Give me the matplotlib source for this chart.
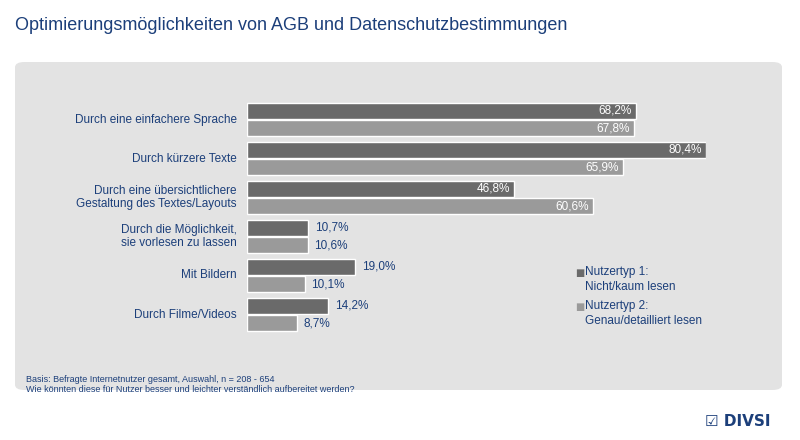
import matplotlib.pyplot as plt
from matplotlib.patches import FancyBboxPatch
import numpy as np

categories = ["Durch eine einfachere Sprache", "Durch kürzere Texte",
              "Durch eine übersichtlichere\nGestaltung des Textes/Layouts",
              "Durch die Möglichkeit,\nsie vorlesen zu lassen", "Mit Bildern", "Durch Filme/Videos"]
typ1 = [68.2, 80.4, 46.8, 10.7, 19.0, 14.2]
typ2 = [67.8, 65.9, 60.6, 10.6, 10.1, 8.7]
legend_labels = ["Nutzertyp 1:\nNicht/kaum lesen", "Nutzertyp 2:\nGenau/detailliert lesen"]

blue = "#1c3f7a"
dark = "#6a6a6a"
light = "#9a9a9a"
W, H = 800, 440

fig = plt.figure(figsize=(8, 4.4), dpi=100)
fig.patch.set_facecolor("white")
fig.text(15 / W, 1 - 25 / H, "Optimierungsmöglichkeiten von AGB und Datenschutzbestimmungen",
         fontsize=13, color=blue, va="center", family="Liberation Sans")
box = FancyBboxPatch((15 / W, 1 - 390 / H), 767 / W, 328 / H,
                     boxstyle="round,pad=0,rounding_size=0.012",
                     transform=fig.transFigure, facecolor="#e3e3e3", edgecolor="none", zorder=-5)
fig.patches.append(box)

ax = fig.add_axes([247 / W, 1 - 334 / H, 459 / W, 234 / H])
ax.set_zorder(2)
ax.set_xlim(0, 80.4)
ax.set_ylim(5.5, -0.5)
ax.axis("off")
y = np.arange(len(categories))
off, h = 0.218, 0.4
ax.barh(y - off, typ1, height=h, color=dark, edgecolor="white", linewidth=1)
ax.barh(y + off, typ2, height=h, color=light, edgecolor="white", linewidth=1)
for yi, vals in ((y - off, typ1), (y + off, typ2)):
    for yy, v in zip(yi, vals):
        s = f"{v:.1f}".replace(".", ",") + "%"
        if v > 40:
            ax.text(v - 0.8, yy, s, color="white", ha="right", va="center", fontsize=8.5,
                    family="Liberation Sans", clip_on=False)
        else:
            ax.text(v + 1.2, yy, s, color=blue, ha="left", va="center", fontsize=8.5,
                    family="Liberation Sans", clip_on=False)
for yy, c in zip(y, categories):
    ax.text(-1.8, yy, c, color=blue, ha="right", va="center", fontsize=8.5,
            family="Liberation Sans", clip_on=False)

for i, (lab, col) in enumerate(zip(legend_labels, [dark, light])):
    ty = 1 - (273 + i * 34) / H
    fig.text(575 / W, ty, "■", color=col, fontsize=7, va="center")
    fig.text(585 / W, ty + 7 / H, lab, color=blue, fontsize=8.5, va="top",
             family="Liberation Sans", linespacing=1.3)

fig.text(26 / W, 1 - 379 / H, "Basis: Befragte Internetnutzer gesamt, Auswahl, n = 208 - 654",
         color=blue, fontsize=6.5, va="center", family="Liberation Sans")
fig.text(26 / W, 1 - 389 / H, "Wie könnten diese für Nutzer besser und leichter verständlich aufbereitet werden?",
         color=blue, fontsize=6.5, va="center", family="Liberation Sans")
fig.text(738 / W, 1 - 421 / H, "☑ DIVSI", color=blue, fontsize=11, fontweight="bold",
         ha="center", va="center", family="DejaVu Sans")

fig.savefig("out.png", dpi=100)
